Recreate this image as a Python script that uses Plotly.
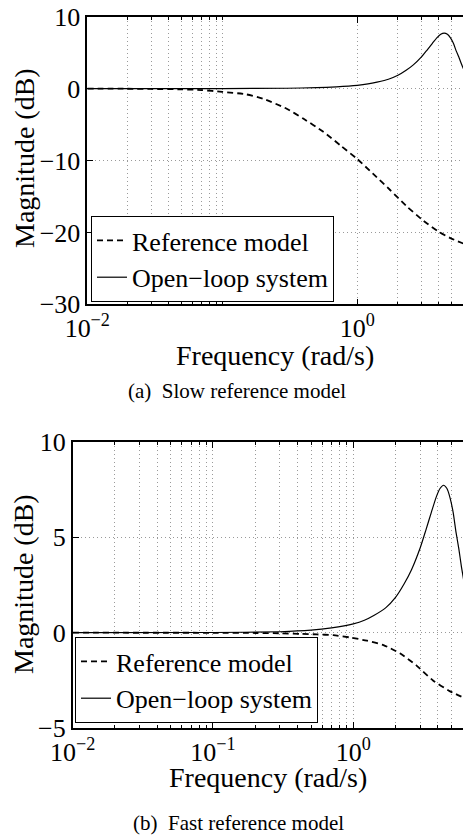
import plotly.graph_objects as go

# ---- data ----
# open-loop system (same plant in both panels)
ol_freq = [0.01, 0.1, 0.3, 0.5, 0.7, 1.0, 1.2, 1.4, 1.7, 2.0, 2.3, 2.6, 3.0, 3.3, 3.6, 3.9, 4.15, 4.4, 4.65, 4.9, 5.15, 5.4, 5.65, 5.9, 6.2]
ol_db = [0.0, 0.01, 0.05, 0.13, 0.25, 0.46, 0.65, 0.9, 1.3, 1.85, 2.55, 3.3, 4.45, 5.4, 6.3, 7.1, 7.55, 7.72, 7.55, 7.05, 6.3, 5.25, 4.4, 3.45, 2.5]

# slow reference model (panel a)
ref_a_freq = [0.01, 0.02, 0.03, 0.05, 0.07, 0.1, 0.15, 0.2, 0.3, 0.4, 0.56, 0.75, 1.0, 1.3, 1.75, 2.3, 3.1, 4.0, 4.9, 6.2]
ref_a_db = [0.0, -0.02, -0.05, -0.1, -0.2, -0.45, -0.8, -1.4, -2.8, -4.2, -6.0, -7.9, -9.8, -11.8, -14.1, -16.3, -18.4, -19.9, -20.8, -21.6]

# fast reference model (panel b)
ref_b_freq = [0.01, 0.1, 0.2, 0.3, 0.42, 0.55, 0.72, 0.95, 1.25, 1.64, 2.15, 2.8, 3.7, 4.9, 6.2]
ref_b_db = [0.0, -0.005, -0.015, -0.03, -0.06, -0.09, -0.13, -0.25, -0.42, -0.65, -1.08, -1.7, -2.5, -3.07, -3.42]

# axis ticks / grid positions
a_xticks = [0.01, 1]
a_xticktext = ["10<sup>−2</sup>", "10<sup>0</sup>"]
a_xminor = [0.02, 0.03, 0.04, 0.05, 0.06, 0.07, 0.08, 0.09, 0.1, 2, 3, 4, 5, 6]
a_yticks = [-30, -20, -10, 0, 10]
a_yticktext = ["−30", "−20", "−10", "0", "10"]

b_xticks = [0.01, 0.1, 1]
b_xticktext = ["10<sup>−2</sup>", "10<sup>−1</sup>", "10<sup>0</sup>"]
b_xminor = [0.02, 0.03, 0.04, 0.05, 0.06, 0.07, 0.08, 0.09,
            0.2, 0.3, 0.4, 0.5, 0.6, 0.7, 0.8, 0.9, 2, 3, 4, 5, 6]
b_yticks = [-5, 0, 5, 10]
b_yticktext = ["−5", "0", "5", "10"]

labels = ["Reference model", "Open−loop system"]
captions = ["(a)  Slow reference model", "(b)  Fast reference model"]
xtitle = "Frequency (rad/s)"
ytitle = "Magnitude (dB)"

FONT = "Liberation Serif, Times New Roman, serif"
W, H = 463, 835
GRIDC = "#9a9a9a"
GDASH = "1px,3px"

fig = go.Figure()

# panel a
fig.add_trace(go.Scatter(x=ref_a_freq, y=ref_a_db, mode="lines", name=labels[0],
                         line=dict(color="black", width=1.8, dash="6px,4px", shape="spline", smoothing=0.6),
                         xaxis="x", yaxis="y", legend="legend"))
fig.add_trace(go.Scatter(x=ol_freq, y=ol_db, mode="lines", name=labels[1],
                         line=dict(color="black", width=1.2, shape="spline", smoothing=0.6),
                         xaxis="x", yaxis="y", legend="legend"))
# panel b
fig.add_trace(go.Scatter(x=ref_b_freq, y=ref_b_db, mode="lines", name=labels[0],
                         line=dict(color="black", width=1.8, dash="6px,4px", shape="spline", smoothing=0.6),
                         xaxis="x2", yaxis="y2", legend="legend2"))
fig.add_trace(go.Scatter(x=ol_freq, y=ol_db, mode="lines", name=labels[1],
                         line=dict(color="black", width=1.2, shape="spline", smoothing=0.6),
                         xaxis="x2", yaxis="y2", legend="legend2"))

axis_common = dict(showline=True, linecolor="black", linewidth=1.6, ticks="inside", ticklen=6,
                   tickcolor="black", tickfont=dict(family=FONT, size=26, color="black"),
                   zeroline=False, automargin=False,
                   showgrid=True, gridcolor=GRIDC, gridwidth=1, griddash=GDASH)
minor_common = dict(ticks="inside", ticklen=3, tickcolor="black",
                    showgrid=True, gridcolor=GRIDC, griddash=GDASH, gridwidth=1)

def px_to_y(p):
    return 1 - p / H

fig.update_layout(
    template="none",
    width=W, height=H, margin=dict(l=0, r=0, t=0, b=0, pad=0), autosize=False,
    paper_bgcolor="white", plot_bgcolor="white", showlegend=True,
    xaxis=dict(type="log", domain=[87.3 / W, 1], range=[-2, 0.783], anchor="y",
               tickmode="array", tickvals=a_xticks, ticktext=a_xticktext, mirror="ticks",
               minor=dict(tickvals=a_xminor, **minor_common), **axis_common),
    yaxis=dict(domain=[px_to_y(304.3), px_to_y(16.7)], range=[-30, 10], anchor="x",
               tickmode="array", tickvals=a_yticks, ticktext=a_yticktext, **axis_common),
    xaxis2=dict(type="log", domain=[72.7 / W, 1], range=[-2, 0.782], anchor="y2",
                tickmode="array", tickvals=b_xticks, ticktext=b_xticktext, mirror="ticks",
                minor=dict(tickvals=b_xminor, **minor_common), **axis_common),
    yaxis2=dict(domain=[px_to_y(728.2), px_to_y(441.7)], range=[-5, 10], anchor="x2",
                tickmode="array", tickvals=b_yticks, ticktext=b_yticktext, **axis_common),
    legend=dict(x=91 / W, y=px_to_y(302), xanchor="left", yanchor="bottom",
                bgcolor="white", bordercolor="black", borderwidth=1,
                font=dict(family=FONT, size=26, color="black"), tracegroupgap=0,
                itemwidth=30),
    legend2=dict(x=75 / W, y=px_to_y(723), xanchor="left", yanchor="bottom",
                 bgcolor="white", bordercolor="black", borderwidth=1,
                 font=dict(family=FONT, size=26, color="black"), tracegroupgap=0,
                 itemwidth=30),
)

ann = [
    (xtitle, 275, 355, 28, 0),
    (captions[0], 237.5, 391, 21, 0),
    (xtitle, 268, 777, 28, 0),
    (captions[1], 238, 823, 21, 0),
    (ytitle, 24, 158, 28, -90),
    (ytitle, 23, 584, 28, -90),
]
for text, xp, yp, size, ang in ann:
    fig.add_annotation(text=text, x=xp / W, y=px_to_y(yp), xref="paper", yref="paper",
                       xanchor="center", yanchor="middle", showarrow=False, textangle=ang,
                       font=dict(family=FONT, size=size, color="black"))

fig.write_html("out.html")
